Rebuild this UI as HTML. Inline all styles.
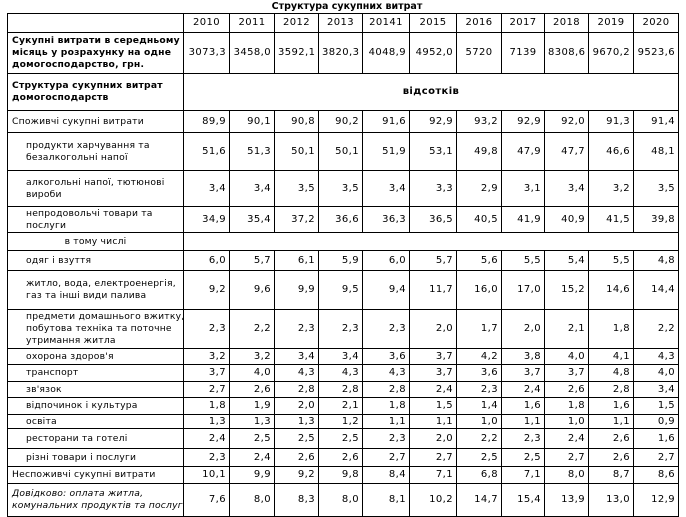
<!DOCTYPE html>
<html><head><meta charset="utf-8"><style>
body{margin:0;background:#fff;width:686px;height:517px;overflow:hidden;position:relative;font-family:"DejaVu Sans","Liberation Sans",sans-serif;font-size:10px;color:#000}
.t{position:absolute;top:0;left:0;width:686px;text-align:center;font-weight:bold;line-height:13px;padding-left:4px;font-size:9.5px}
table{position:absolute;left:7px;top:13px;border-collapse:collapse;table-layout:fixed;width:671px}
td{border:1px solid #000;padding:0 3px;text-align:right;vertical-align:middle;line-height:12px;overflow:hidden;white-space:nowrap;letter-spacing:0.4px;font-size:10px}
td.l,td.i{text-align:left;padding-left:4px;font-size:9.2px;letter-spacing:0.2px}
td.i{padding-left:18px}
td.c{text-align:center}
.b{font-weight:bold}
.it{font-style:italic}
</style></head><body>
<div class="t">Структура сукупних витрат</div>
<table>
<colgroup><col style="width:176px"><col style="width:46px"><col style="width:45px"><col style="width:44px"><col style="width:44px"><col style="width:47px"><col style="width:47px"><col style="width:45px"><col style="width:43px"><col style="width:44px"><col style="width:45px"><col style="width:45px"></colgroup>
<tr style="height:19px"><td></td><td class="c">2010</td><td class="c">2011</td><td class="c">2012</td><td class="c">2013</td><td class="c">20141</td><td class="c">2015</td><td class="c">2016</td><td class="c">2017</td><td class="c">2018</td><td class="c">2019</td><td class="c">2020</td></tr>
<tr style="height:41px"><td class="l b">Сукупні витрати в середньому за<br>місяць у розрахунку на одне<br>домогосподарство, грн.</td><td>3073,3</td><td>3458,0</td><td>3592,1</td><td>3820,3</td><td>4048,9</td><td>4952,0</td><td class="c">5720</td><td class="c">7139</td><td>8308,6</td><td>9670,2</td><td>9523,6</td></tr>
<tr style="height:37px"><td class="l b">Структура сукупних витрат<br>домогосподарств</td><td colspan="11" class="c b">відсотків</td></tr>
<tr style="height:22px"><td class="l">Споживчі сукупні витрати</td><td>89,9</td><td>90,1</td><td>90,8</td><td>90,2</td><td>91,6</td><td>92,9</td><td>93,2</td><td>92,9</td><td>92,0</td><td>91,3</td><td>91,4</td></tr>
<tr style="height:38px"><td class="i">продукти харчування та<br>безалкогольні напої</td><td>51,6</td><td>51,3</td><td>50,1</td><td>50,1</td><td>51,9</td><td>53,1</td><td>49,8</td><td>47,9</td><td>47,7</td><td>46,6</td><td>48,1</td></tr>
<tr style="height:36px"><td class="i">алкогольні напої, тютюнові<br>вироби</td><td>3,4</td><td>3,4</td><td>3,5</td><td>3,5</td><td>3,4</td><td>3,3</td><td>2,9</td><td>3,1</td><td>3,4</td><td>3,2</td><td>3,5</td></tr>
<tr style="height:26px"><td class="i">непродовольчі товари та<br>послуги</td><td>34,9</td><td>35,4</td><td>37,2</td><td>36,6</td><td>36,3</td><td>36,5</td><td>40,5</td><td>41,9</td><td>40,9</td><td>41,5</td><td>39,8</td></tr>
<tr style="height:18px"><td class="c" style="font-size:9.2px;letter-spacing:0.2px">в тому числі</td><td colspan="11"></td></tr>
<tr style="height:20px"><td class="i">одяг і взуття</td><td>6,0</td><td>5,7</td><td>6,1</td><td>5,9</td><td>6,0</td><td>5,7</td><td>5,6</td><td>5,5</td><td>5,4</td><td>5,5</td><td>4,8</td></tr>
<tr style="height:39px"><td class="i">житло, вода, електроенергія,<br>газ та інші види палива</td><td>9,2</td><td>9,6</td><td>9,9</td><td>9,5</td><td>9,4</td><td>11,7</td><td>16,0</td><td>17,0</td><td>15,2</td><td>14,6</td><td>14,4</td></tr>
<tr style="height:39px"><td class="i">предмети домашнього вжитку,<br>побутова техніка та поточне<br>утримання житла</td><td>2,3</td><td>2,2</td><td>2,3</td><td>2,3</td><td>2,3</td><td>2,0</td><td>1,7</td><td>2,0</td><td>2,1</td><td>1,8</td><td>2,2</td></tr>
<tr style="height:16px"><td class="i">охорона здоров'я</td><td>3,2</td><td>3,2</td><td>3,4</td><td>3,4</td><td>3,6</td><td>3,7</td><td>4,2</td><td>3,8</td><td>4,0</td><td>4,1</td><td>4,3</td></tr>
<tr style="height:17px"><td class="i">транспорт</td><td>3,7</td><td>4,0</td><td>4,3</td><td>4,3</td><td>4,3</td><td>3,7</td><td>3,6</td><td>3,7</td><td>3,7</td><td>4,8</td><td>4,0</td></tr>
<tr style="height:16px"><td class="i">зв'язок</td><td>2,7</td><td>2,6</td><td>2,8</td><td>2,8</td><td>2,8</td><td>2,4</td><td>2,3</td><td>2,4</td><td>2,6</td><td>2,8</td><td>3,4</td></tr>
<tr style="height:17px"><td class="i">відпочинок і культура</td><td>1,8</td><td>1,9</td><td>2,0</td><td>2,1</td><td>1,8</td><td>1,5</td><td>1,4</td><td>1,6</td><td>1,8</td><td>1,6</td><td>1,5</td></tr>
<tr style="height:14px"><td class="i">освіта</td><td>1,3</td><td>1,3</td><td>1,3</td><td>1,2</td><td>1,1</td><td>1,1</td><td>1,0</td><td>1,1</td><td>1,0</td><td>1,1</td><td>0,9</td></tr>
<tr style="height:20px"><td class="i">ресторани та готелі</td><td>2,4</td><td>2,5</td><td>2,5</td><td>2,5</td><td>2,3</td><td>2,0</td><td>2,2</td><td>2,3</td><td>2,4</td><td>2,6</td><td>1,6</td></tr>
<tr style="height:18px"><td class="i">різні товари і послуги</td><td>2,3</td><td>2,4</td><td>2,6</td><td>2,6</td><td>2,7</td><td>2,7</td><td>2,5</td><td>2,5</td><td>2,7</td><td>2,6</td><td>2,7</td></tr>
<tr style="height:17px"><td class="l">Неспоживчі сукупні витрати</td><td>10,1</td><td>9,9</td><td>9,2</td><td>9,8</td><td>8,4</td><td>7,1</td><td>6,8</td><td>7,1</td><td>8,0</td><td>8,7</td><td>8,6</td></tr>
<tr style="height:33px"><td class="l it">Довідково: оплата житла,<br>комунальних продуктів та послуг</td><td>7,6</td><td>8,0</td><td>8,3</td><td>8,0</td><td>8,1</td><td>10,2</td><td>14,7</td><td>15,4</td><td>13,9</td><td>13,0</td><td>12,9</td></tr>
</table>
</body></html>
